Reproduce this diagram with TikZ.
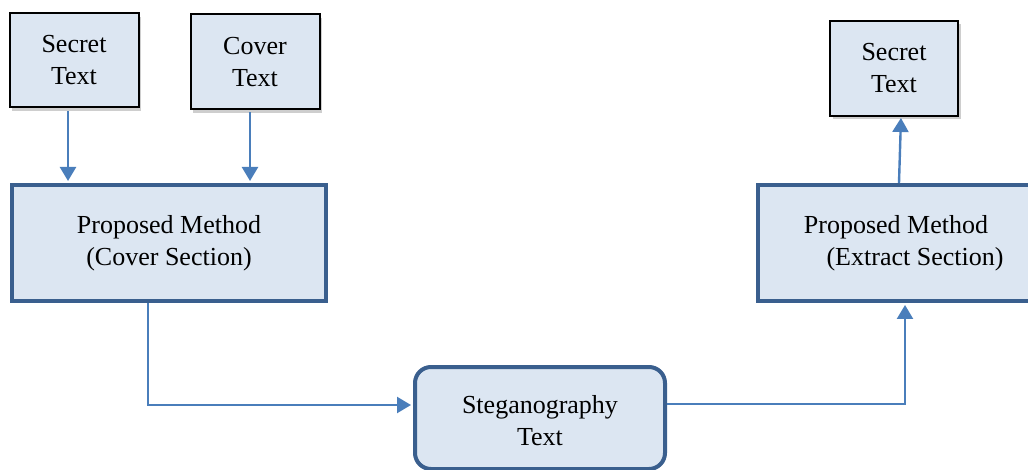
\documentclass[tikz,border=0pt]{standalone}
\usepackage{fontspec}
\setmainfont{Liberation Serif}
\usetikzlibrary{arrows.meta,shadows}
\definecolor{boxfill}{HTML}{DCE6F2}
\definecolor{boxline}{HTML}{3A5F8E}
\definecolor{arrcol}{HTML}{4A7EBB}
\tikzset{
  txt/.style={font=\fontsize{26}{32}\selectfont, align=center, inner sep=0pt},
  smallbox/.style={txt, draw=black, line width=2pt, fill=boxfill,
    drop shadow={shadow xshift=2.5pt, shadow yshift=-3.5pt, opacity=0.35, fill=black!55}},
  bigbox/.style={txt, draw=boxline, line width=4pt, fill=boxfill},
  arr/.style={draw=arrcol, line width=2.4pt, -{Triangle[width=16pt,length=14pt]}}
}
\begin{document}
\begin{tikzpicture}[x=1pt,y=1pt]
\path[use as bounding box] (0,0) rectangle (1028,-470);
\clip (0,0) rectangle (1028,-470);
\node[smallbox, minimum width=129pt, minimum height=94pt] (s1) at (74,-60.5) {Secret\\Text};
\node[smallbox, minimum width=129pt, minimum height=95pt] (ct) at (255,-62) {Cover\\Text};
\node[smallbox, minimum width=128pt, minimum height=95pt] (s2) at (894,-68.5) {Secret\\Text};
\node[bigbox, minimum width=314pt, minimum height=116pt] (pmc) at (169,-243) {Proposed Method\\(Cover Section)};
\node[bigbox, minimum width=276pt, minimum height=116pt] (pme) at (896,-243) {Proposed Method\\\hspace*{38pt}(Extract Section)};
\node[bigbox, rounded corners=16pt, minimum width=250pt, minimum height=102pt] (steg) at (540,-418) {};
\node[txt] (stegt) at (540,-421) {Steganography\\Text};
\draw[arr, shorten >=2pt] ([xshift=-6pt,yshift=-3pt]s1.south) -- ([xshift=-6pt]s1.south |- pmc.north);
\draw[arr, shorten >=2pt] ([xshift=-5pt,yshift=-2pt]ct.south) -- ([xshift=-5pt]ct.south |- pmc.north);
\draw[arr, shorten >=2pt] ([xshift=-21pt]pmc.south) |- ([yshift=13pt]steg.west);
\draw[arr, shorten >=2pt] ([yshift=14pt]steg.east) -| ([xshift=9pt]pme.south);
\draw[arr, shorten >=1pt] ([xshift=3pt]pme.north) -- ([xshift=7pt]s2.south);
\end{tikzpicture}
\end{document}
